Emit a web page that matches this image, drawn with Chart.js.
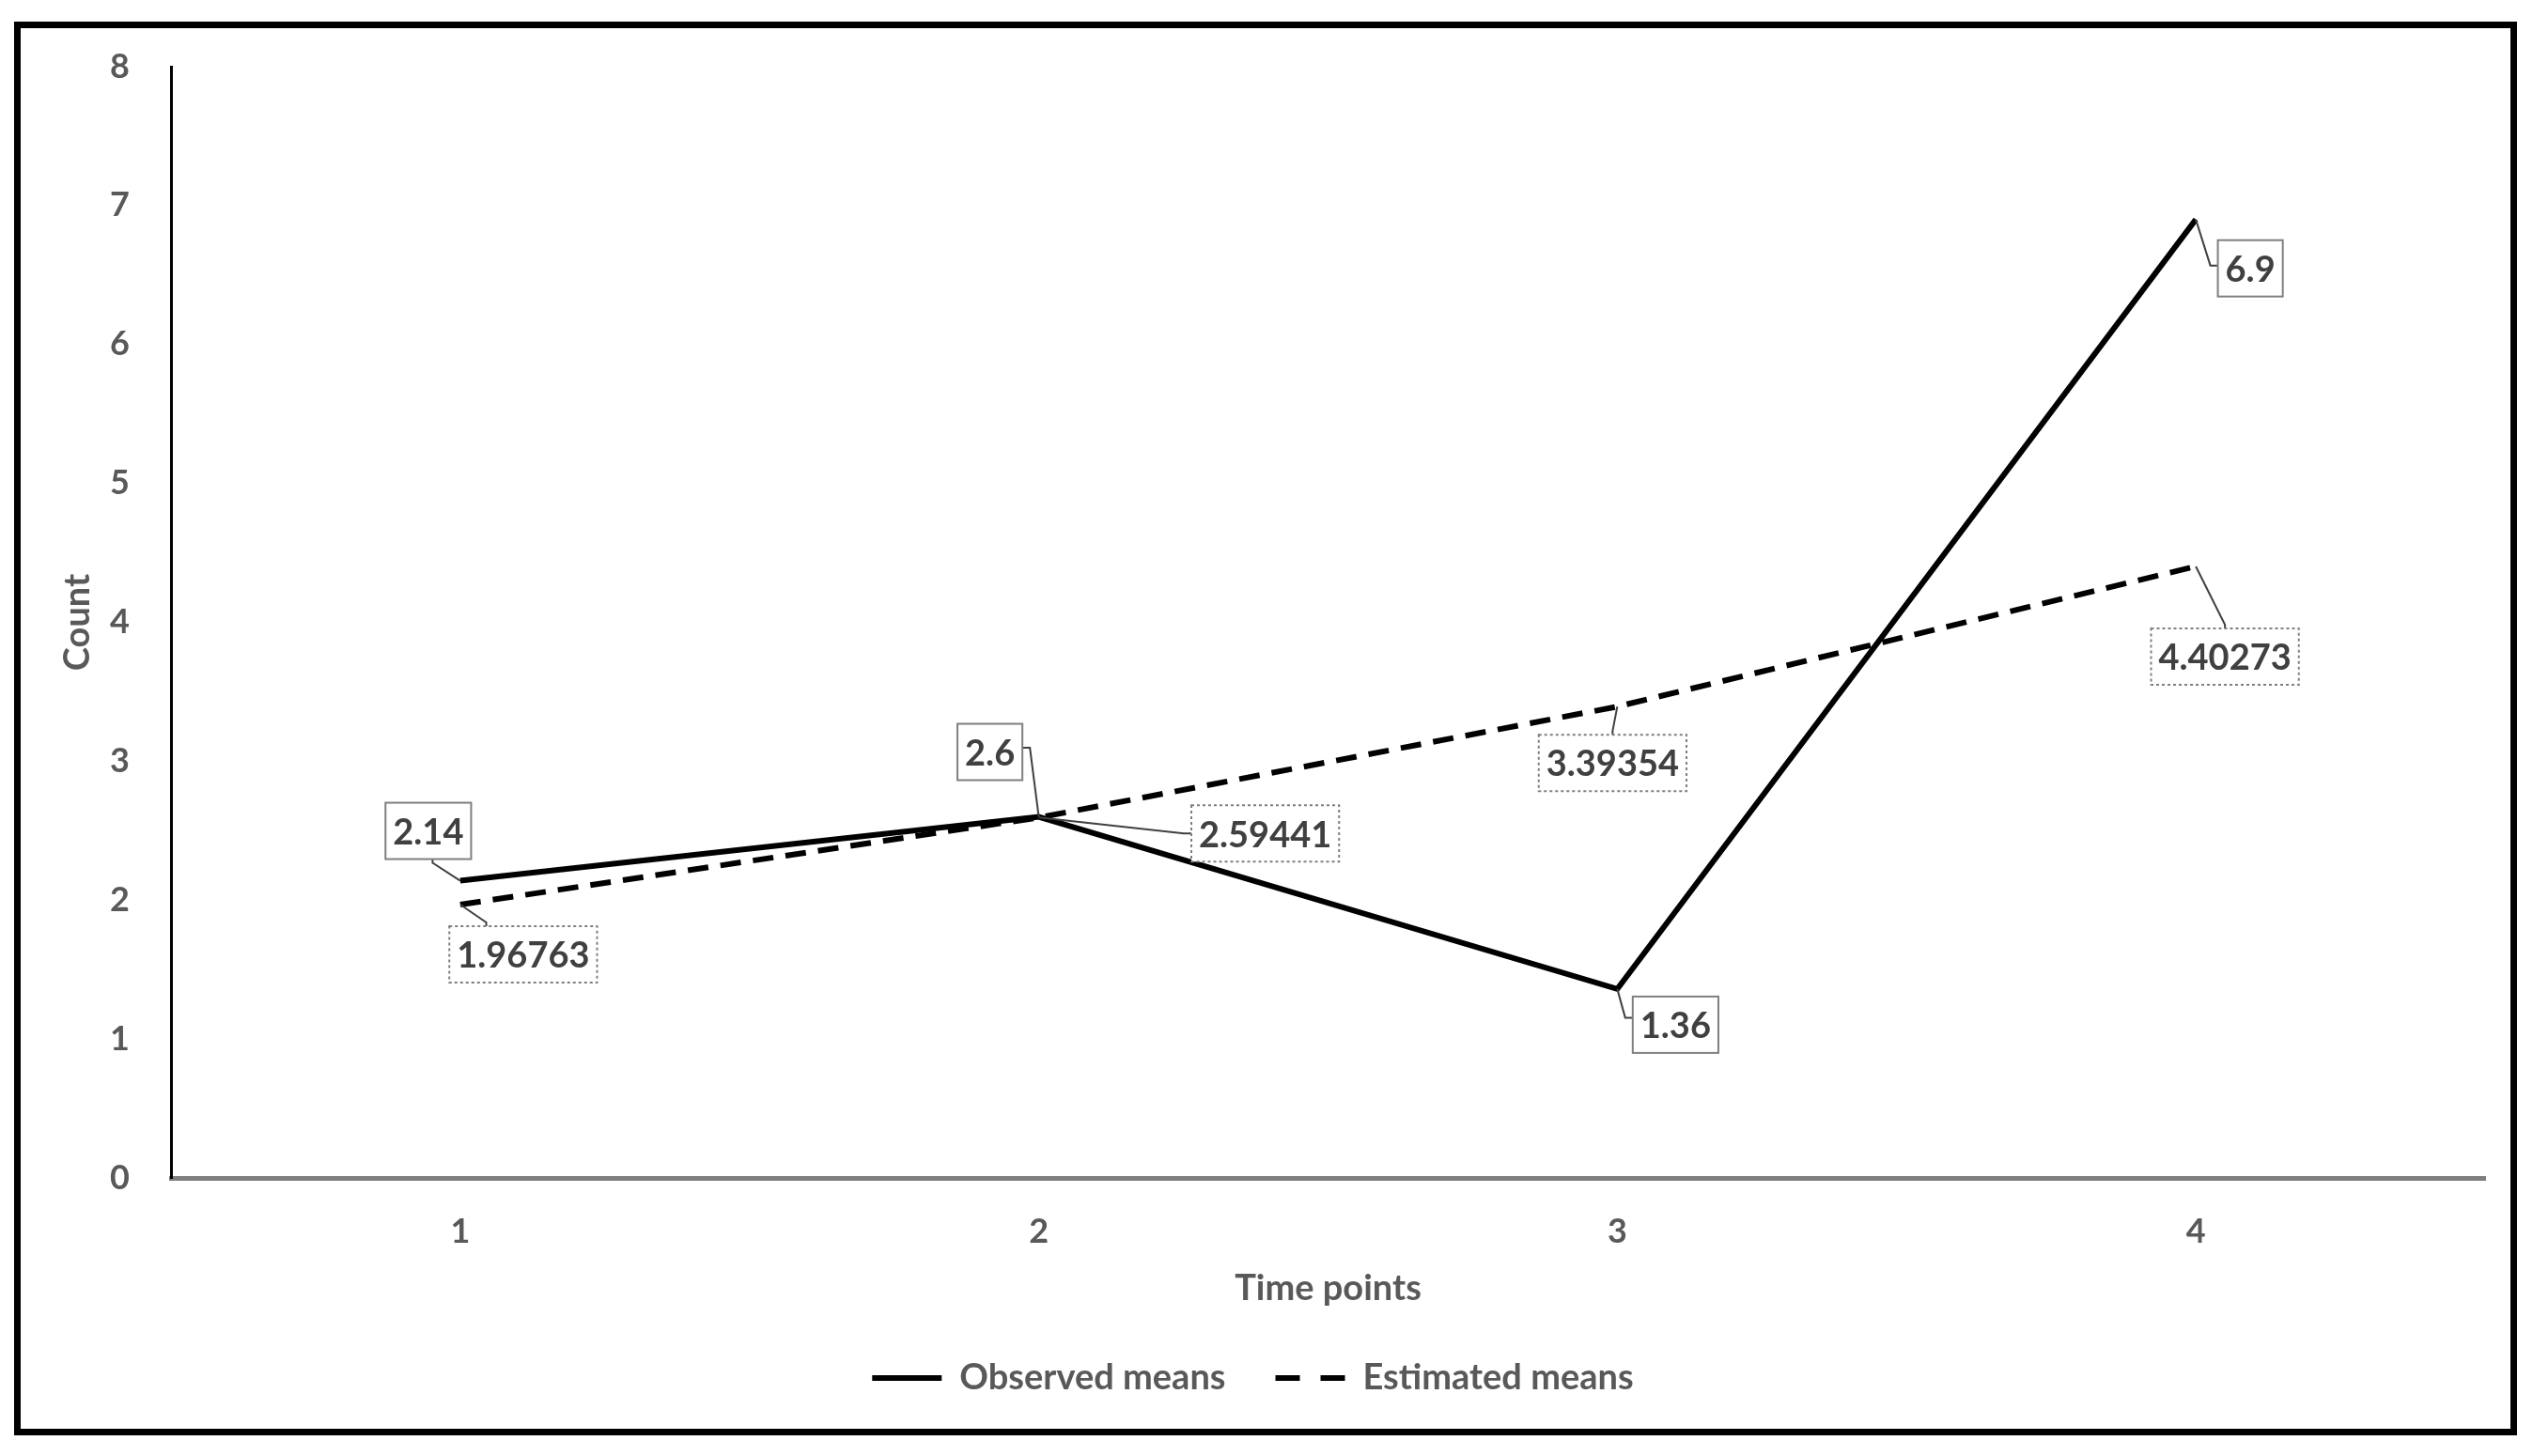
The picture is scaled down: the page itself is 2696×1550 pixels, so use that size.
<!DOCTYPE html>
<html>
<head>
<meta charset="utf-8">
<script src="https://cdn.jsdelivr.net/npm/chart.js@4.4.0/dist/chart.umd.min.js"></script>
<style>
  html, body { margin: 0; padding: 0; background: #fff; }
  #frame { position: absolute; left: 15px; top: 23px; width: 2650px; height: 1491px; border: 7px solid #000; }
  canvas { display: block; }
</style>
</head>
<body>
<div id="frame"><canvas id="chart" width="2650" height="1491"></canvas></div>
<script>
let timePoints = ['1', '2', '3', '4'];
let observedMeans = [2.14, 2.6, 1.36, 6.9];
let estimatedMeans = [1.96763, 2.59441, 3.39354, 4.40273];
let yMin = 0;
let yMax = 8;

// callout box offsets from each point (px) and the side the leader enters
let observedCallouts = [
    { dx: -34, dy: -53, side: 'bottom', frac: 0.1 },
    { dx: -52, dy: -69, side: 'right', frac: -0.15 },
    { dx: 62, dy: 38, side: 'left', frac: -0.25 },
    { dx: 58, dy: 52, side: 'left', frac: -0.1 }
];
let estimatedCallouts = [
    { dx: 67, dy: 53, side: 'top', frac: -0.5 },
    { dx: 241, dy: 17, side: 'left', frac: 0 },
    { dx: -5, dy: 60, side: 'top', frac: 0 },
    { dx: 31, dy: 96, side: 'top', frac: 0 }
];

Chart.defaults.font.family = 'Lato';
Chart.defaults.font.weight = 'bold';

const calloutPlugin = {
    id: 'callouts',
    afterDatasetsDraw(chart) {
        const ctx = chart.ctx;
        chart.data.datasets.forEach((ds, di) => {
            const meta = chart.getDatasetMeta(di);
            meta.data.forEach((pt, i) => {
                const c = ds.callouts[i];
                const text = String(ds.data[i]);
                ctx.save();
                ctx.font = 'bold 38px Lato';
                const w = ctx.measureText(text).width + 16;
                const h = 60;
                const cx = pt.x + c.dx, cy = pt.y + c.dy;
                const left = cx - w / 2, top = cy - h / 2;
                let ax, ay, sx, sy;
                if (c.side === 'left') { ax = left; ay = cy + c.frac * h / 2; sx = ax - 8; sy = ay; }
                else if (c.side === 'right') { ax = left + w; ay = cy + c.frac * h / 2; sx = ax + 8; sy = ay; }
                else if (c.side === 'top') { ax = cx + c.frac * w / 2; ay = top; sx = ax; sy = ay - 4; }
                else { ax = cx + c.frac * w / 2; ay = top + h; sx = ax; sy = ay + 4; }
                // leader line
                ctx.strokeStyle = '#404040';
                ctx.lineWidth = 2;
                ctx.setLineDash([]);
                ctx.beginPath();
                ctx.moveTo(pt.x, pt.y);
                ctx.lineTo(sx, sy);
                ctx.lineTo(ax, ay);
                ctx.stroke();
                // box
                ctx.fillStyle = '#fff';
                ctx.fillRect(left, top, w, h);
                ctx.strokeStyle = '#7f7f7f';
                ctx.lineWidth = 2;
                ctx.setLineDash(ds.calloutDash);
                ctx.strokeRect(left, top, w, h);
                ctx.setLineDash([]);
                ctx.fillStyle = '#404040';
                ctx.textAlign = 'center';
                ctx.textBaseline = 'middle';
                ctx.fillText(text, cx, cy + 2);
                ctx.restore();
            });
        });
    }
};

const ctx = document.getElementById('chart').getContext('2d');
const chart = new Chart(ctx, {
    type: 'line',
    data: {
        labels: timePoints,
        datasets: [
            {
                label: 'Observed means',
                data: observedMeans,
                borderColor: '#000',
                backgroundColor: '#000',
                borderWidth: 6,
                pointRadius: 0,
                tension: 0,
                callouts: observedCallouts,
                calloutDash: []
            },
            {
                label: 'Estimated means',
                data: estimatedMeans,
                borderColor: '#000',
                backgroundColor: '#000',
                borderWidth: 6,
                borderDash: [22, 13],
                pointRadius: 0,
                tension: 0,
                callouts: estimatedCallouts,
                calloutDash: [3, 3]
            }
        ]
    },
    options: {
        responsive: false,
        animation: false,
        layout: { padding: { left: 0, right: 27, top: 41, bottom: 25 } },
        plugins: {
            tooltip: { enabled: false },
            legend: {
                position: 'bottom',
                labels: {
                    usePointStyle: true,
                    pointStyle: 'line',
                    pointStyleWidth: 74,
                    color: '#595959',
                    font: { size: 38, weight: 'bold' },
                    padding: 53,
                    generateLabels: (chart) => {
                        let items = Chart.defaults.plugins.legend.labels.generateLabels(chart);
                        items.forEach((item) => {
                            let ds = chart.data.datasets[item.datasetIndex];
                            item.lineDash = ds.borderDash ? [26, 22] : [];
                            item.lineWidth = 6;
                        });
                        return items;
                    }
                }
            }
        },
        scales: {
            x: {
                offset: true,
                grid: { display: false, drawTicks: false, tickLength: 0 },
                border: { display: true, color: '#7f7f7f', width: 5 },
                ticks: { color: '#595959', font: { size: 36, weight: 'bold' }, padding: 36 },
                title: {
                    display: true,
                    text: 'Time points',
                    color: '#595959',
                    font: { size: 38, weight: 'bold' },
                    padding: { top: 0, bottom: 0 }
                },
                afterFit: (s) => { s.height = 141; }
            },
            y: {
                min: yMin,
                max: yMax,
                grid: { display: false, drawTicks: false, tickLength: 0 },
                border: { display: true, color: '#000', width: 3 },
                ticks: { stepSize: 1, color: '#595959', font: { size: 36, weight: 'bold' }, padding: 44 },
                title: {
                    display: true,
                    text: 'Count',
                    color: '#595959',
                    font: { size: 38, weight: 'bold' },
                    padding: { top: 38, bottom: 0 }
                },
                afterFit: (s) => {
                    s.width = 160;
                    s.paddingTop = 0;
                    s.paddingBottom = 0;
                }
            }
        }
    },
    plugins: [calloutPlugin]
});
</script>
</body>
</html>
